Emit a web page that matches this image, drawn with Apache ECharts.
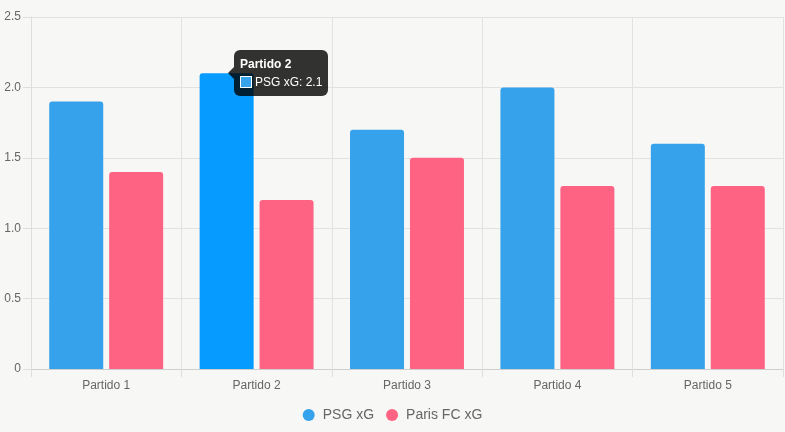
<!DOCTYPE html>
<html>
<head>
<meta charset="utf-8">
<script src="https://cdn.jsdelivr.net/npm/echarts@6/dist/echarts.min.js"></script>
<style>
html,body{margin:0;padding:0;background:#f7f7f5;}
#chart{width:785px;height:432px;}
</style>
</head>
<body>
<div id="chart"></div>
<script>
var categories = ['Partido 1', 'Partido 2', 'Partido 3', 'Partido 4', 'Partido 5'];
var psgXg = [1.9, 2.1, 1.7, 2.0, 1.6];
var parisFcXg = [1.4, 1.2, 1.5, 1.3, 1.3];
var seriesNames = ['PSG xG', 'Paris FC xG'];
var yTicks = { min: 0, max: 2.5, interval: 0.5 };

var font = 'Liberation Sans, Arial, sans-serif';
var colors = ['#36A2EB', '#FF6384'];

var chart = echarts.init(document.getElementById('chart'));

chart.setOption({
    animation: false,
    backgroundColor: '#f7f7f5',
    color: colors,
    textStyle: { fontFamily: font },
    grid: { left: 31, right: 2, top: 17, bottom: 63 },
    tooltip: {
        trigger: 'item',
        alwaysShowContent: true,
        transitionDuration: 0,
        backgroundColor: 'rgba(0,0,0,0.8)',
        borderWidth: 0,
        padding: [6, 6, 6, 6],
        extraCssText: 'border-radius:6px;box-shadow:none;overflow:visible;',
        position: function () { return [234, 50]; },
        formatter: function (p) {
            return '<div style="position:absolute;left:-6px;top:17px;width:0;height:0;' +
                'border-top:6px solid transparent;border-bottom:6px solid transparent;' +
                'border-right:6px solid rgba(0,0,0,0.8)"></div>' +
                '<div style="color:#fff;font:bold 12px ' + font + ';line-height:16px;margin-bottom:2px">' + p.name + '</div>' +
                '<div style="color:#fff;font:12px ' + font + ';line-height:16px;">' +
                '<span style="display:inline-block;width:10px;height:10px;background:' + colors[p.seriesIndex] +
                ';border:1px solid #fff;vertical-align:-2px;margin-right:3px"></span>' +
                p.seriesName + ': ' + p.value + '</div>';
        }
    },
    legend: {
        bottom: 5,
        left: 'center',
        icon: 'circle',
        itemWidth: 18,
        itemHeight: 12,
        itemGap: 12,
        textStyle: { color: '#666', fontSize: 14, fontFamily: font },
        data: seriesNames
    },
    xAxis: {
        type: 'category',
        data: categories,
        axisLine: { lineStyle: { color: '#cfcfcf' } },
        axisTick: { show: true, length: 8, lineStyle: { color: '#dedede' } },
        splitLine: { show: true, lineStyle: { color: '#e2e2e0' } },
        axisLabel: { color: '#666', fontSize: 12, margin: 11, fontFamily: font }
    },
    yAxis: {
        type: 'value',
        min: yTicks.min,
        max: yTicks.max,
        interval: yTicks.interval,
        axisLine: { show: true, lineStyle: { color: '#dedede' } },
        axisTick: { show: true, length: 8, lineStyle: { color: '#dedede' } },
        splitLine: { lineStyle: { color: '#e2e2e0' } },
        axisLabel: {
            color: '#666', fontSize: 12, margin: 10, fontFamily: font,
            formatter: function (v) { return v === 0 ? '0' : v.toFixed(1); }
        }
    },
    series: [
        {
            name: seriesNames[0],
            type: 'bar',
            data: psgXg,
            barWidth: 54,
            barGap: '11%',
            itemStyle: { color: colors[0], borderRadius: [3, 3, 0, 0] },
            emphasis: { itemStyle: { color: '#069bff' } }
        },
        {
            name: seriesNames[1],
            type: 'bar',
            data: parisFcXg,
            barWidth: 54,
            barGap: '11%',
            itemStyle: { color: colors[1], borderRadius: [3, 3, 0, 0] },
            emphasis: { itemStyle: { color: '#ff4f75' } }
        }
    ]
});

chart.dispatchAction({ type: 'highlight', seriesIndex: 0, dataIndex: 1 });
chart.dispatchAction({ type: 'showTip', seriesIndex: 0, dataIndex: 1 });
</script>
</body>
</html>
